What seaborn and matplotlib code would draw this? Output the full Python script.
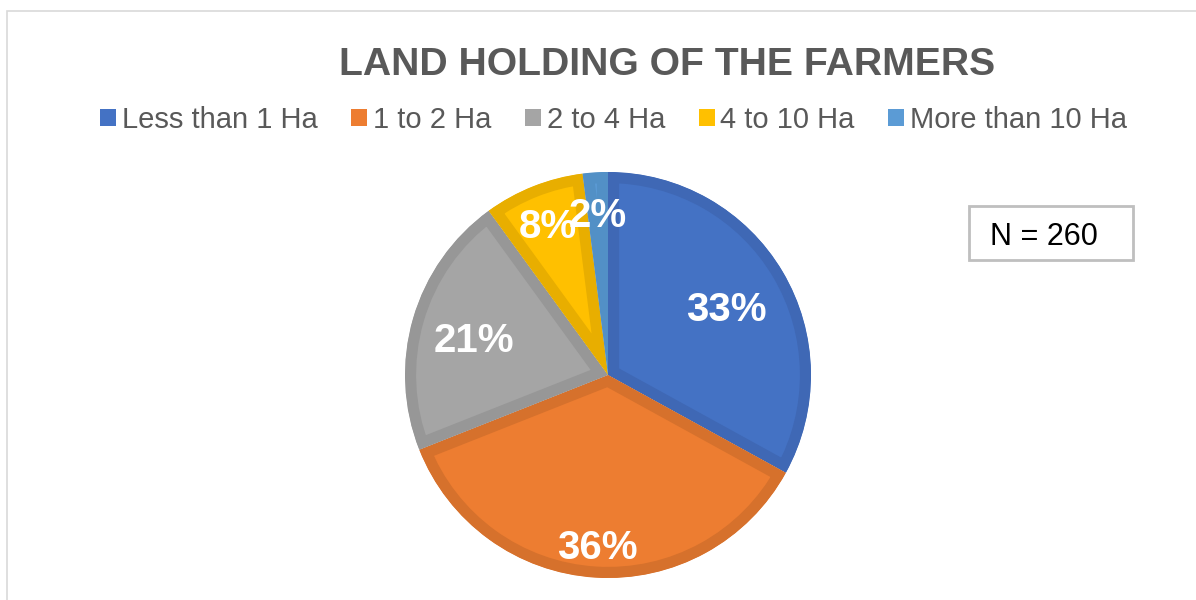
import numpy as np
import matplotlib.pyplot as plt
import matplotlib.patches as mpatches
import seaborn as sns

# Datos del grafico
categorias = ['Less than 1 Ha', '1 to 2 Ha', '2 to 4 Ha', '4 to 10 Ha', 'More than 10 Ha']
porcentajes = [33, 36, 21, 8, 2]
colores = ['#4472C4', '#ED7D31', '#A5A5A5', '#FFC000', '#5B9BD5']
bordes = ['#3F68B5', '#D6712C', '#979797', '#E8AE00', '#5290C6']
# distancia radial de cada etiqueta (Excel "best fit")
dist_etiquetas = [0.68, 0.83, 0.69, 0.81, 0.81]
titulo = 'LAND HOLDING OF THE FARMERS'
nota = 'N = 260'

sns.set_theme(style='white')
plt.rcParams['font.family'] = ['Liberation Sans', 'DejaVu Sans']
paleta = sns.color_palette(colores)

W, H = 1196, 600
fig = plt.figure(figsize=(W / 100, H / 100), dpi=100)
fig.patch.set_facecolor('white')

# Marco del area del grafico
fig.patches.append(mpatches.Rectangle((7 / W, -0.2), 1.2, 1.2 - 11 / H, transform=fig.transFigure,
                                      fill=False, edgecolor='#D9D9D9', linewidth=1.2))

# Ejes del pie (centro 608,375 ; radio 203 px)
cx, cy, r = 608, 375, 203
ax = fig.add_axes([(cx - r) / W, (H - cy - r) / H, 2 * r / W, 2 * r / H])
wedges, textos, autotextos = ax.pie(porcentajes, colors=paleta, startangle=90, counterclock=False,
                                    radius=1, autopct='%.0f%%', pctdistance=0.7,
                                    wedgeprops=dict(linewidth=16),
                                    textprops=dict(color='white', fontsize=29, fontweight='bold'))
for w, b in zip(wedges, bordes):
    w.set_edgecolor(b)
    w.set_joinstyle('miter')
    w.set_clip_on(True)
    w.set_clip_path(w)  # borde interior

for w, t, d in zip(wedges, autotextos, dist_etiquetas):
    ang = np.deg2rad((w.theta1 + w.theta2) / 2)
    t.set_position((d * np.cos(ang), d * np.sin(ang) - 0.025))
    t.set_ha('center')
    t.set_va('center')
    t.set_zorder(5)

ax.set_xlim(-1, 1)
ax.set_ylim(-1, 1)
ax.axis('off')

# Titulo
fig.text(667.5 / W, 1 - 65 / H, titulo, ha='center', va='center', fontsize=28.2,
         fontweight='bold', color='#595959')

# Leyenda
handles = [mpatches.Patch(facecolor=c, edgecolor='none') for c in colores]
fig.legend(handles, categorias, loc='center', bbox_to_anchor=(613.5 / W, 1 - 120 / H), ncol=5,
           frameon=False, fontsize=21, handlelength=0.55, handleheight=0.55,
           handletextpad=0.2, columnspacing=1.15, labelcolor='#595959')

# Cuadro N = 260
fig.patches.append(mpatches.Rectangle((969 / W, 1 - 260 / H), 164 / W, 54 / H, transform=fig.transFigure,
                                      fill=False, edgecolor='#BFBFBF', linewidth=2))
fig.text(990 / W, 1 - 237 / H, nota, ha='left', va='center', fontsize=22, color='black')

fig.savefig('out.png', dpi=100)
